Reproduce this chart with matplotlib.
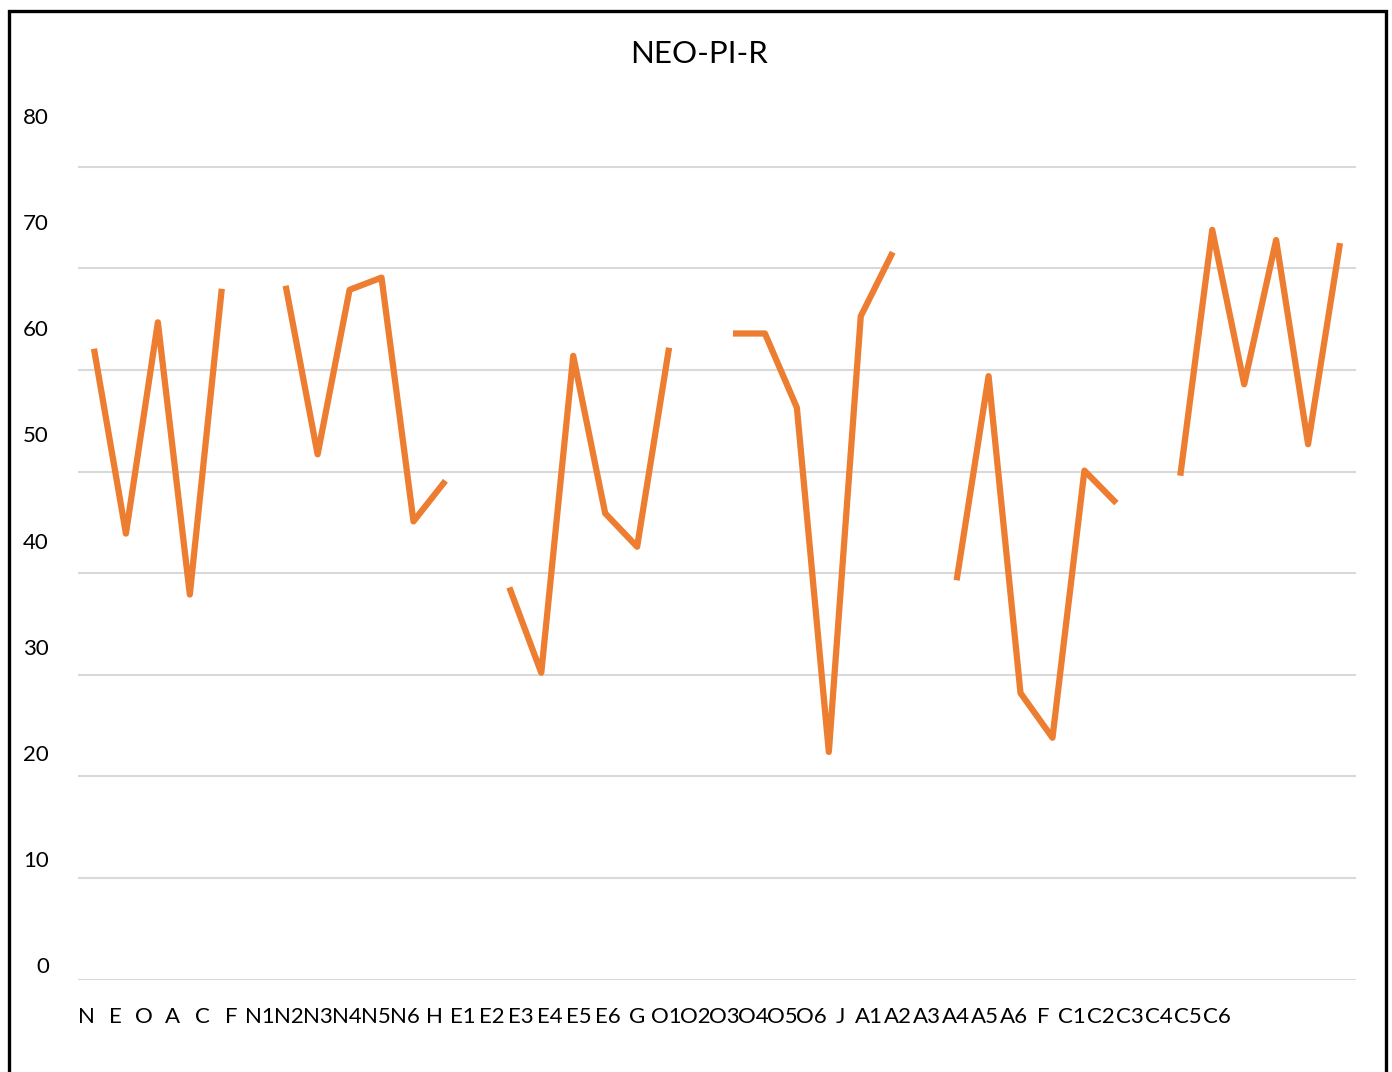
import numpy as np
import matplotlib
matplotlib.use("Agg")
import matplotlib.pyplot as plt
from matplotlib.patches import Rectangle

# ---- data ----
categories = ["N", "E", "O", "A", "C", "F",
              "N1", "N2", "N3", "N4", "N5", "N6", "H",
              "E1", "E2", "E3", "E4", "E5", "E6", "G",
              "O1", "O2", "O3", "O4", "O5", "O6", "J",
              "A1", "A2", "A3", "A4", "A5", "A6", "F",
              "C1", "C2", "C3", "C4", "C5", "C6"]
nan = np.nan
values = [62.1, 43.9, 64.7, 37.9, 68.0, nan,
          68.3, 51.7, 67.9, 69.1, 45.1, 49.1, nan,
          38.6, 30.2, 61.4, 45.9, 42.6, 62.2, nan,
          63.6, 63.6, 56.3, 22.4, 65.3, 71.6, nan,
          39.3, 59.4, 28.2, 23.8, 50.1, 46.9, nan,
          49.6, 73.8, 58.6, 72.8, 52.7, 72.5]
grid_values = [0, 10, 20, 30, 40, 50, 60, 70, 80]
y_labels = ["0", "10", "20", "30", "40", "50", "60", "70", "80"]
title = "NEO-PI-R"

plt.rcParams['font.family'] = ['Lato', 'DejaVu Sans']

W, H = 1392, 1072
fig = plt.figure(figsize=(W / 100, H / 100), dpi=100)
fig.patch.set_facecolor("white")

ax = fig.add_axes([78 / W, (H - 979.5) / H, 1278 / W, 883.7 / H])
x = np.arange(len(categories))
ax.plot(x, values, color="#ED7D31", linewidth=4.5,
        solid_joinstyle="round", solid_capstyle="butt", zorder=3)

ax.set_xlim(-0.5, len(categories) - 0.5)
ax.set_ylim(0, 87)

# gridlines at the real values
ax.set_yticks(grid_values, minor=True)
ax.grid(which="minor", axis="y", color="#D9D9D9", linewidth=1.5)
ax.tick_params(which="minor", length=0)

# tick labels (positioned as in the reference rendering)
ytick_pos = 1.38 + 10.458 * np.arange(len(y_labels))
ax.set_yticks(ytick_pos)
ax.set_yticklabels(y_labels, fontsize=16, color="#000000")
xtick_pos = -0.2504 + 0.9077 * np.arange(len(categories))
ax.set_xticks(xtick_pos)
ax.set_xticklabels(categories, fontsize=16, color="#000000")
ax.tick_params(axis="y", which="major", length=0, pad=21)
ax.tick_params(axis="x", which="major", length=0, pad=20)

for s in ax.spines.values():
    s.set_visible(False)

fig.text(699.5 / W, 1 - 54 / H, title, ha="center", va="center",
         fontsize=22.5, color="#000000")

# outer chart border (bottom edge beyond the image)
fig.patches.append(Rectangle((8.5 / W, -0.05), (1385.5 - 8.5) / W, 1.05 - 10.5 / H,
                             transform=fig.transFigure, fill=False,
                             edgecolor="black", linewidth=2.4))

fig.savefig("out.png", dpi=100)
